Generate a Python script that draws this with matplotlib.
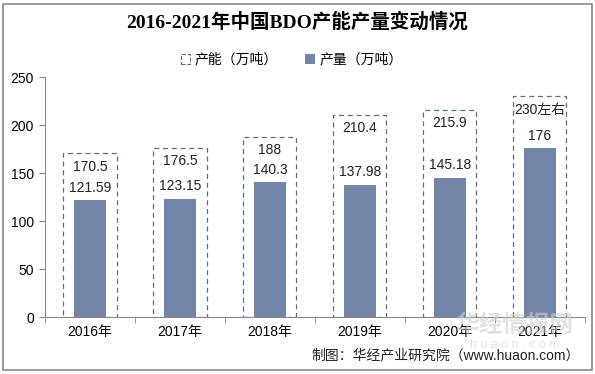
import matplotlib.pyplot as plt
from matplotlib.patches import Patch, Rectangle

plt.rcParams['font.family'] = ['Liberation Sans', 'Noto Sans CJK SC']

years = ['2016年', '2017年', '2018年', '2019年', '2020年', '2021年']
capacity = [170.5, 176.5, 188, 210.4, 215.9, 230]
capacity_labels = ['170.5', '176.5', '188', '210.4', '215.9', '230左右']
output = [121.59, 123.15, 140.3, 137.98, 145.18, 176]
output_labels = ['121.59', '123.15', '140.3', '137.98', '145.18', '176']

bar_color = '#7485aa'
edge_color = '#5d6b88'

fig = plt.figure(figsize=(5.95, 3.74), dpi=100)
ax = fig.add_axes([0.0756, 0.1524, 0.9074, 0.6417])

x = range(len(years))
ax.bar(x, capacity, width=0.59, facecolor='white', edgecolor=edge_color,
       linestyle=(0, (4, 3)), linewidth=0.9, zorder=1)
ax.bar(x, output, width=0.36, color=bar_color, zorder=2)

for i in x:
    ax.text(i, capacity[i] - 14, capacity_labels[i], ha='center', va='center',
            fontsize=10, color='#222222')
    ax.text(i, output[i] + 13, output_labels[i], ha='center', va='center',
            fontsize=10, color='#222222')

ax.set_xlim(-0.5, len(years) - 0.5)
ax.set_ylim(0, 250)
ax.set_yticks([0, 50, 100, 150, 200, 250])
ax.set_xticks(x)
ax.set_xticklabels(years)
ax.set_xticks([i - 0.5 for i in range(len(years) + 1)], minor=True)
ax.tick_params(axis='x', which='major', length=0, pad=6, labelsize=10)
ax.tick_params(axis='x', which='minor', length=4, color='#888888')
ax.tick_params(axis='y', length=4, color='#888888', labelsize=10, pad=4)
for s in ['top', 'right']:
    ax.spines[s].set_visible(False)
for s in ['left', 'bottom']:
    ax.spines[s].set_color('#888888')

fig.text(0.5, 0.94, '2016-2021年中国BDO产能产量变动情况', ha='center', va='center',
         fontsize=14, fontweight='bold', family=['Liberation Serif', 'Noto Sans CJK SC'])

handles = [Patch(facecolor='white', edgecolor=edge_color, linestyle='--', linewidth=0.8),
           Patch(facecolor=bar_color)]
fig.legend(handles, ['产能（万吨）', '产量（万吨）'], loc='center', ncol=2,
           bbox_to_anchor=(0.49, 0.84), frameon=False, fontsize=10,
           handlelength=0.7, handleheight=0.7, columnspacing=2.0, handletextpad=0.3)

# watermark (sits behind the year labels, as in the source image)
fig.text(0.865, 0.13, '华经情报网', ha='center', va='center', fontsize=17,
         fontweight='bold', color='#d0d0d0', alpha=0.6, zorder=0)
fig.text(0.865, 0.078, 'h u a o n . c o m', ha='center', va='center', fontsize=9,
         color='#d0d0d0', alpha=0.6, zorder=0)

fig.text(0.975, 0.05, '制图：华经产业研究院（www.huaon.com）', ha='right', va='center',
         fontsize=10, color='#222222')

fig.patches.append(Rectangle((0.005, 0.01), 0.99, 0.98, transform=fig.transFigure,
                             fill=False, edgecolor='#888888', linewidth=1.2))

fig.savefig('out.png', dpi=100)
